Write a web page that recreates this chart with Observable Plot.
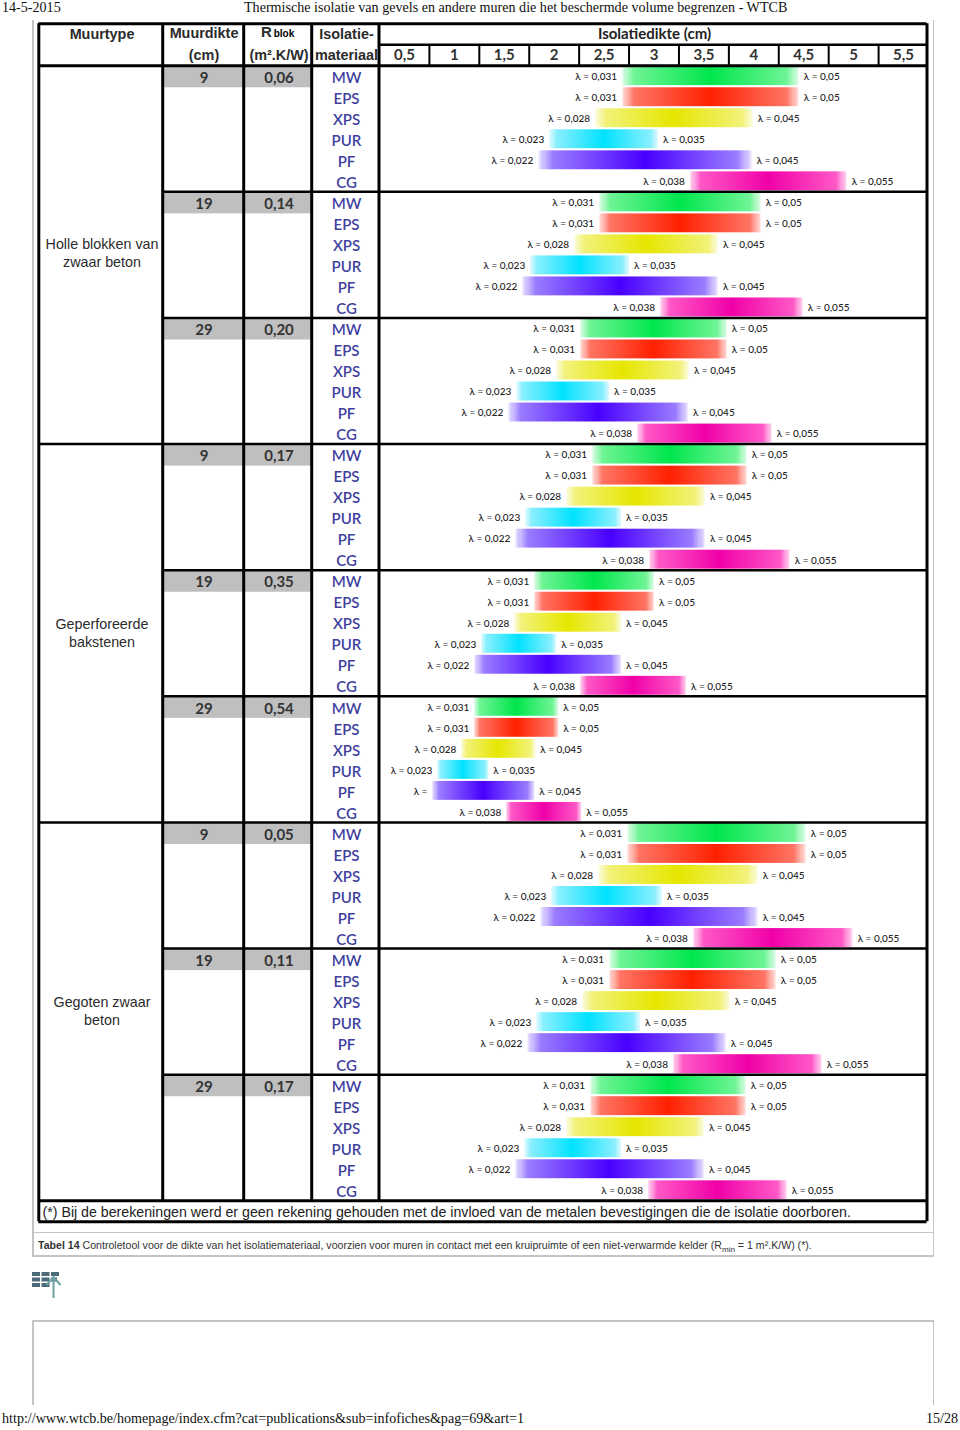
<!DOCTYPE html>
<html lang="nl"><head><meta charset="utf-8">
<script src="https://cdn.jsdelivr.net/npm/d3@7"></script>
<script src="https://cdn.jsdelivr.net/npm/@observablehq/plot@0.6"></script>
<style>
html,body{margin:0;padding:0;background:#fff}
#page{position:relative;width:960px;height:1430px;overflow:hidden}
#page svg{display:block}
.abs{position:absolute;white-space:nowrap}
.serif{font-family:"Liberation Serif",serif;font-size:14.1px;color:#111}
.g{position:absolute;background:#c4c4c4}
#chart{position:absolute;left:0;top:20px}
</style></head><body><div id="page">
<div class="abs serif" style="left:2px;top:-1px">14-5-2015</div>
<div class="abs serif" style="left:244px;top:-1px">Thermische isolatie van gevels en andere muren die het beschermde volume begrenzen - WTCB</div>
<div class="g" style="left:32px;top:20px;width:1.5px;height:1236px"></div>
<div class="g" style="left:932.5px;top:20px;width:1.5px;height:1236px"></div>
<div id="chart"></div>
<div class="g" style="left:32px;top:1232px;width:902px;height:1px"></div>
<div class="g" style="left:32px;top:1255px;width:902px;height:1.5px"></div>
<div class="abs" id="cap" style="left:38px;top:1239px;font:10.6px 'Liberation Sans',sans-serif;color:#333"><b>Tabel 14</b> Controletool voor de dikte van het isolatiemateriaal, voorzien voor muren in contact met een kruipruimte of een niet-verwarmde kelder (R<sub style="font-size:8px">min</sub> = 1 m².K/W) (*).</div>
<svg class="abs" style="left:32px;top:1271px" width="30" height="28" viewBox="0 0 30 28">
<g fill="#4c6a78"><rect x="0" y="1" width="8" height="4"/><rect x="9.5" y="1" width="8" height="4"/><rect x="19" y="1" width="8" height="4"/>
<rect x="0" y="6.5" width="8" height="4"/><rect x="9.5" y="6.5" width="8" height="4"/><rect x="19" y="6.5" width="6" height="4"/>
<rect x="0" y="12" width="8" height="4"/><rect x="9.5" y="12" width="8" height="4"/></g>
<path d="M21.5 27V6M14.5 14l7-8 7 8" fill="none" stroke="#6fa3a3" stroke-width="2"/></svg>
<div class="g" style="left:32px;top:1320px;width:902px;height:1.5px"></div>
<div class="g" style="left:32px;top:1320px;width:1.5px;height:85px"></div>
<div class="g" style="left:932.5px;top:1320px;width:1.5px;height:85px"></div>
<div class="abs serif" style="left:2px;top:1410px">http://www.wtcb.be/homepage/index.cfm?cat=publications&amp;sub=infofiches&amp;pag=69&amp;art=1</div>
<div class="abs serif" style="right:2px;top:1410px">15/28</div>
</div>
<script>
// ---- data ----
const materials = ["MW","EPS","XPS","PUR","PF","CG"];
const lambdaLow  = ["0,031","0,031","0,028","0,023","0,022","0,038"];
const lambdaHigh = ["0,05","0,05","0,045","0,035","0,045","0,055"];
const wallTypes = ["Holle blokken van\nzwaar beton","Geperforeerde\nbakstenen","Gegoten zwaar\nbeton"];
const wallThickness = ["9","19","29","9","19","29","9","19","29"];
const rBlock = ["0,06","0,14","0,20","0,17","0,35","0,54","0,05","0,11","0,17"];
const thicknessTicks = ["0,5","1","1,5","2","2,5","3","3,5","4","4,5","5","5,5"];
const tickValues = [0.5,1,1.5,2,2.5,3,3.5,4,4.5,5,5.5];
// insulation thickness range in cm, one list per block, in order of materials
const barStart = [
 [2.68,2.68,2.41,1.95,1.84,3.36],
 [2.45,2.45,2.20,1.76,1.68,3.06],
 [2.26,2.26,2.02,1.62,1.54,2.83],
 [2.38,2.38,2.12,1.71,1.61,2.95],
 [1.80,1.80,1.60,1.27,1.20,2.26],
 [1.20,1.20,1.07,0.83,0.78,1.52],
 [2.73,2.73,2.44,1.97,1.86,3.39],
 [2.55,2.55,2.28,1.82,1.73,3.19],
 [2.36,2.36,2.12,1.70,1.61,2.94]];
const barEnd = [
 [4.46,4.46,4.00,3.05,3.99,4.94],
 [4.08,4.08,3.65,2.76,3.65,4.50],
 [3.74,3.74,3.36,2.56,3.35,4.19],
 [3.94,3.94,3.52,2.68,3.52,4.37],
 [3.01,3.01,2.68,2.03,2.68,3.33],
 [2.05,2.05,1.82,1.35,1.81,2.28],
 [4.53,4.53,4.05,3.09,4.05,5.00],
 [4.23,4.23,3.77,2.87,3.73,4.69],
 [3.93,3.93,3.51,2.68,3.51,4.34]];
const footnote = "(*) Bij de berekeningen werd er geen rekening gehouden met de invloed van de metalen bevestigingen die de isolatie doorboren.";

// ---- styling / layout ----
const palette = {MW:["#00e64c","#6ff495"],EPS:["#ff2000","#ff7464"],XPS:["#e6e600","#f2f27a"],
                 PUR:["#00e2ff","#8aefff"],PF:["#4800ff","#9a7cff"],CG:["#f000a8","#ff58c6"]};
const W = 960, H = 1212;
// x scale is in cm of insulation; the left table columns sit at pixel edges converted to that scale
const cmPerPx = 5.5/549, cmAt = p => 0.25 + (p-379)*cmPerPx;
const edges = {wall:cmAt(38.3),dikte:cmAt(162.2),rblok:cmAt(243.2),mat:cmAt(311.2),bars:cmAt(378.5),right:cmAt(926.5)};
const colMid = {wall:cmAt(101.5),dikte:cmAt(203.5),rblok:cmAt(278.5),mat:cmAt(346)};
const wallMidRows = [8.87,26.95,44.95];
// y scale is in table rows
const rowsTop=-2, rowsBottom=55;
const rows = [];
barStart.forEach((b,bi)=>b.forEach((s,mi)=>rows.push({
  block:bi, mi, material:materials[mi], row:bi*6+mi, start:s, end:barEnd[bi][mi],
  low:(bi===5&&mi===4)?"λ =":"λ = "+lambdaLow[mi], high:"λ = "+lambdaHigh[mi]})));
const blocks = wallThickness.map((t,i)=>({i,t,r:rBlock[i],row:i*6}));

const sans="'Liberation Sans',sans-serif", cal="Lato,'Noto Sans',sans-serif";
const hText=(txt,x,y,o={})=>Plot.text([txt],{x:()=>x,y:()=>y,text:d=>d,fontFamily:sans,fontWeight:700,fontSize:14.4,fill:"#2b2b2b",...o});
const line=(x1,x2,y1,y2,w=3)=>Plot.ruleY([0],{x1:()=>x1,x2:()=>x2,y:()=>y1,stroke:"#000",strokeWidth:w});
const vline=(x,y1,y2,w=3)=>Plot.ruleX([0],{x:()=>x,y1:()=>y1,y2:()=>y2,stroke:"#000",strokeWidth:w});

const defs = () => {
  const d = d3.create("svg:defs");
  for (const m of materials) {
    const [c,l]=palette[m];
    const g=d.append("linearGradient").attr("id","grad-"+m);
    [[0,"#fff"],[.03,l+"80"],[.07,l],[.5,c],[.93,l],[.97,l+"80"],[1,"#fff"]]
      .forEach(([o,k])=>g.append("stop").attr("offset",o).attr("stop-color",k));
  }
  return d.node();
};

const chart = Plot.plot({
  width:W,height:H,margin:0,
  style:{background:"transparent"},
  x:{domain:[cmAt(0),cmAt(W)],range:[0,W],axis:null},
  y:{domain:[rowsTop,rowsBottom],range:[3.16,1201.3],axis:null},
  marks:[
    defs,
    // grey cells
    Plot.rect(blocks,{x1:()=>edges.dikte,x2:()=>edges.rblok,y1:d=>d.row+0.05,y2:d=>d.row+1.05,fill:"#bfbfbf"}),
    Plot.rect(blocks,{x1:()=>edges.rblok,x2:()=>edges.mat,y1:d=>d.row+0.05,y2:d=>d.row+1.05,fill:"#bfbfbf"}),
    // gradient bars
    ...materials.map(m=>Plot.rect(rows.filter(d=>d.material===m),{
      x1:"start",x2:"end",y1:d=>d.row+0.05,y2:d=>d.row+0.95,fill:"url(#grad-"+m+")"})),
    // lambda labels
    Plot.text(rows,{x:"start",y:d=>d.row+0.53,text:"low",textAnchor:"end",dx:-5,fontFamily:cal,fontSize:10,fontWeight:500,fill:"#222"}),
    Plot.text(rows,{x:"end",y:d=>d.row+0.53,text:"high",textAnchor:"start",dx:4,fontFamily:cal,fontSize:10,fontWeight:500,fill:"#222"}),
    // table body text
    Plot.text(rows,{x:()=>colMid.mat,y:d=>d.row+0.59,text:"material",fontFamily:cal,fontWeight:600,fontSize:15,fill:"#3f3f9e"}),
    Plot.text(blocks,{x:()=>colMid.dikte,y:d=>d.row+0.59,text:"t",fontFamily:cal,fontWeight:700,fontSize:15,fill:"#333"}),
    Plot.text(blocks,{x:()=>colMid.rblok,y:d=>d.row+0.59,text:"r",fontFamily:cal,fontWeight:700,fontSize:15,fill:"#333"}),
    Plot.text(wallTypes,{x:()=>colMid.wall,y:(d,i)=>wallMidRows[i],text:d=>d,fontFamily:sans,fontSize:14.3,lineHeight:1.23,fill:"#2b2b2b"}),
    // header
    hText("Muurtype",colMid.wall,-1.5),
    hText("Muurdikte",colMid.dikte,-1.55),
    hText("(cm)",colMid.dikte,-0.48),
    hText("R",cmAt(266),-1.58,{fontSize:15}),
    hText("blok",cmAt(283.5),-1.5,{fontSize:10,fill:"#000"}),
    hText("(m².K/W)",colMid.rblok,-0.48),
    hText("Isolatie-",colMid.mat,-1.5),
    hText("materiaal",colMid.mat,-0.48),
    hText("Isolatiedikte (cm)",cmAt(654),-1.5,{fontFamily:cal,fontSize:15,fontWeight:700,fill:"#222"}),
    Plot.text(tickValues,{x:d=>d,y:()=>-0.48,text:(d,i)=>thicknessTicks[i],fontFamily:cal,fontWeight:700,fontSize:15,fill:"#333"}),
    // footnote
    Plot.text([footnote],{x:()=>cmAt(42),y:()=>54.55,text:d=>d,textAnchor:"start",fontFamily:sans,fontSize:14.2,fill:"#222"}),
    // grid lines
    ...tickValues.slice(1).map(v=>vline(v-0.25,-1,0,2)),
    ...blocks.slice(1).map(b=>line(b.i%3===0?edges.wall:edges.dikte,edges.right,b.row,b.row,2.5)),
    line(edges.wall,edges.right,-2,-2),
    line(edges.bars,edges.right,-1,-1,2.5),
    line(edges.wall,edges.right,0,0),
    line(edges.wall,edges.right,54,54),
    line(edges.wall,edges.right,55,55),
    vline(edges.wall,-2,55),vline(edges.right,-2,55),
    vline(edges.dikte,-2,54),vline(edges.rblok,-2,54),vline(edges.mat,-2,54),vline(edges.bars,-2,54),
  ]
});
document.getElementById("chart").append(chart);
</script></body></html>
